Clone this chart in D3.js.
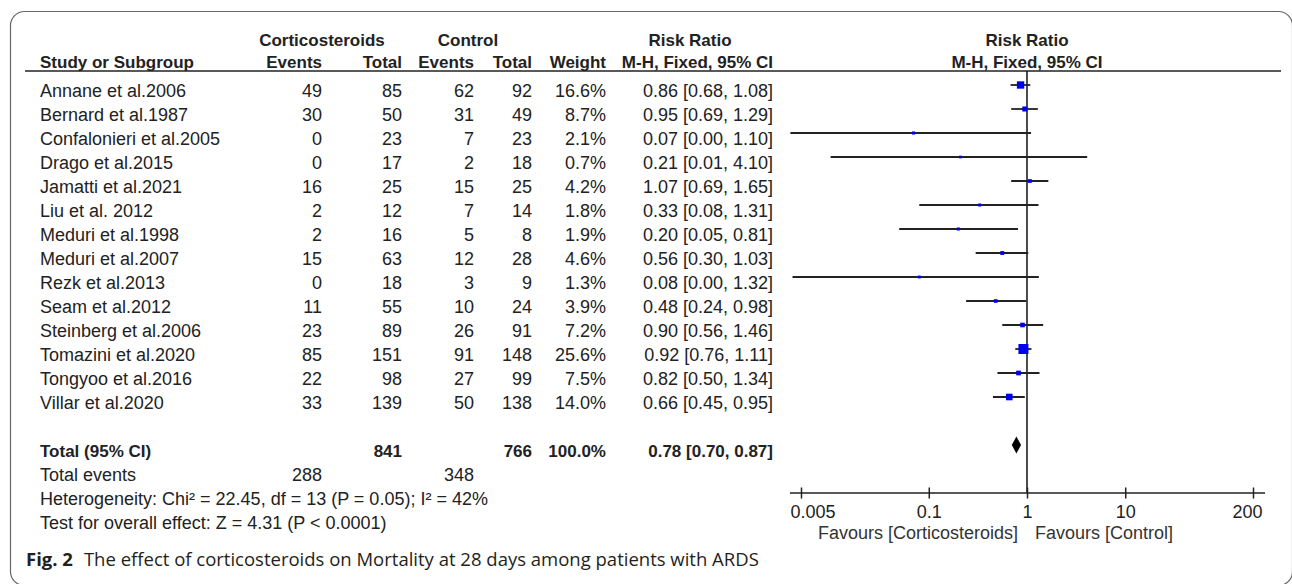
<!DOCTYPE html>
<html><head><meta charset="utf-8">
<script src="https://cdn.jsdelivr.net/npm/d3@7"></script>
<style>body{margin:0;background:#fff;} svg{display:block;}</style>
</head><body>
<svg id="c" width="1292" height="584"></svg>
<script>
// ---------- data ----------
const studies = ["Annane et al.2006","Bernard et al.1987","Confalonieri et al.2005","Drago et al.2015","Jamatti et al.2021","Liu et al. 2012","Meduri et al.1998","Meduri et al.2007","Rezk et al.2013","Seam et al.2012","Steinberg et al.2006","Tomazini et al.2020","Tongyoo et al.2016","Villar et al.2020"];
const treatEvents = [49,30,0,0,16,2,2,15,0,11,23,85,22,33];
const treatTotal  = [85,50,23,17,25,12,16,63,18,55,89,151,98,139];
const ctrlEvents  = [62,31,7,2,15,7,5,12,3,10,26,91,27,50];
const ctrlTotal   = [92,49,23,18,25,14,8,28,9,24,91,148,99,138];
const weights     = [16.6,8.7,2.1,0.7,4.2,1.8,1.9,4.6,1.3,3.9,7.2,25.6,7.5,14.0];
const rr          = [0.86,0.95,0.07,0.21,1.07,0.33,0.20,0.56,0.08,0.48,0.90,0.92,0.82,0.66];
const ciLow       = [0.68,0.69,0.0039,0.01,0.69,0.08,0.05,0.30,0.0041,0.24,0.56,0.76,0.50,0.45];
const ciHigh      = [1.08,1.29,1.10,4.10,1.65,1.31,0.81,1.03,1.32,0.98,1.46,1.11,1.34,0.95];
const total = {treatTotal:841, ctrlTotal:766, weight:100.0, rr:0.78, lo:0.70, hi:0.87, treatEvents:288, ctrlEvents:348};
const tickValues = [0.005,0.1,1,10,200];
const tickLabels = ["0.005","0.1","1","10","200"];
const heterogeneity = "Heterogeneity: Chi\u00B2 = 22.45, df = 13 (P = 0.05); I\u00B2 = 42%";
const overall = "Test for overall effect: Z = 4.31 (P < 0.0001)";
const favLeft = "Favours [Corticosteroids]";
const favRight = "Favours [Control]";

// ---------- layout ----------
const svg = d3.select("#c");
const FONT = "'Liberation Sans', Arial, sans-serif";
const TXT = "#222";
const fmt2 = d => d.toFixed(2);
const rowY = d3.scaleLinear().domain([0,1]).range([85,109]); // marker centre of row i
const x = d3.scaleLog().domain([0.005,200]).range([801,1253]);
const sq = d3.scaleLinear().domain([0,25.6]).range([2.5,10]);

// border
svg.append("rect").attr("x",10.5).attr("y",11.5).attr("width",1282).attr("height",574)
  .attr("rx",14).attr("fill","none").attr("stroke","#666").attr("stroke-width",1.2);

function txt(s, xx, yy, anchor, bold, size, color){
  return svg.append("text").attr("x",xx).attr("y",yy).attr("text-anchor",anchor||"start")
    .attr("font-family",FONT).attr("font-size",size||18).attr("font-weight",bold?"bold":"normal")
    .attr("fill",color||TXT).text(s);
}

// headers
const h1 = 45.5, h2 = 67.5;
txt("Corticosteroids", 322, h1, "middle", true, 17);
txt("Control", 468, h1, "middle", true, 17);
txt("Risk Ratio", 690, h1, "middle", true, 17);
txt("Risk Ratio", 1027, h1, "middle", true, 17);
txt("Study or Subgroup", 40, h2, "start", true, 17);
txt("Events", 322, h2, "end", true, 17);
txt("Total", 402, h2, "end", true, 17);
txt("Events", 474, h2, "end", true, 17);
txt("Total", 532, h2, "end", true, 17);
txt("Weight", 606, h2, "end", true, 17);
txt("M-H, Fixed, 95% CI", 773, h2, "end", true, 17);
txt("M-H, Fixed, 95% CI", 1027, h2, "middle", true, 17);
svg.append("line").attr("x1",25).attr("x2",1281).attr("y1",71).attr("y2",71)
  .attr("stroke","#222").attr("stroke-width",1.6);

// study rows
studies.forEach((s,i)=>{
  const by = rowY(i) + 12;
  txt(s, 40, by);
  txt(treatEvents[i], 322, by, "end");
  txt(treatTotal[i], 402, by, "end");
  txt(ctrlEvents[i], 474, by, "end");
  txt(ctrlTotal[i], 532, by, "end");
  txt(weights[i].toFixed(1)+"%", 606, by, "end");
  txt(fmt2(rr[i])+" ["+fmt2(ciLow[i])+", "+fmt2(ciHigh[i])+"]", 773, by, "end");
});

// totals
const ty = rowY(15)+12;
txt("Total (95% CI)", 40, ty, "start", true, 17);
txt(total.treatTotal, 402, ty, "end", true, 17);
txt(total.ctrlTotal, 532, ty, "end", true, 17);
txt(total.weight.toFixed(1)+"%", 606, ty, "end", true, 17);
txt(fmt2(total.rr)+" ["+fmt2(total.lo)+", "+fmt2(total.hi)+"]", 773, ty, "end", true, 17);
txt("Total events", 40, rowY(16)+12);
txt(total.treatEvents, 322, rowY(16)+12, "end");
txt(total.ctrlEvents, 474, rowY(16)+12, "end");
txt(heterogeneity, 40, rowY(17)+12);
txt(overall, 40, rowY(18)+12);

// forest plot
const plot = svg.append("g");
plot.append("line").attr("x1",x(1)).attr("x2",x(1)).attr("y1",71).attr("y2",493)
  .attr("stroke","#111").attr("stroke-width",1.5);
const idx = d3.range(studies.length);
plot.selectAll("line.ci").data(idx).join("line").attr("class","ci")
  .attr("x1",i=>x(ciLow[i])).attr("x2",i=>x(ciHigh[i]))
  .attr("y1",i=>rowY(i)).attr("y2",i=>rowY(i))
  .attr("stroke","#222").attr("stroke-width",1.8);
plot.selectAll("rect.pt").data(idx).join("rect").attr("class","pt")
  .attr("x",i=>x(rr[i])-sq(weights[i])/2).attr("y",i=>rowY(i)-sq(weights[i])/2)
  .attr("width",i=>sq(weights[i])).attr("height",i=>sq(weights[i]))
  .attr("fill","#0000f0");
// diamond
const dy = rowY(15);
plot.append("path")
  .attr("d",`M${x(total.lo)},${dy} L${x(total.rr)},${dy-8.5} L${x(total.hi)},${dy} L${x(total.rr)},${dy+8.5} Z`)
  .attr("fill","#000");

// axis
const ax = svg.append("g").attr("transform","translate(0,493)");
ax.call(d3.axisBottom(x).tickValues(tickValues).tickFormat((d,i)=>tickLabels[i]).tickSize(5.5).tickSizeOuter(0));
ax.select(".domain").remove();
ax.append("line").attr("x1",x(0.005)-11).attr("x2",x(200)+12).attr("y1",0).attr("y2",0)
  .attr("stroke","#222").attr("stroke-width",1.5);
ax.selectAll(".tick line").attr("y1",-5.5).attr("y2",5.5).attr("stroke","#222").attr("stroke-width",1.5);
ax.selectAll(".tick text").attr("y",25).attr("dy",null).attr("font-family",FONT).attr("font-size",18).attr("fill",TXT);
ax.selectAll(".tick text").filter((d,i)=>i===0).attr("text-anchor","start").attr("x",-11);
ax.selectAll(".tick text").filter((d,i,n)=>i===n.length-1).attr("text-anchor","end").attr("x",9);
txt(favLeft, x(1)-9, 539, "end", false, 18, "#333");
txt(favRight, x(1)+8, 539, "start", false, 18, "#333");

// caption
const cap = svg.append("text").attr("x",26).attr("y",566).attr("font-family","'Open Sans', 'Noto Sans', sans-serif")
  .attr("font-size",18.5).attr("fill","#231f20");
cap.append("tspan").attr("font-weight","bold").text("Fig. 2");
cap.append("tspan").attr("dx",11).text("The effect of corticosteroids on Mortality at 28 days among patients with ARDS");
</script>
</body></html>
